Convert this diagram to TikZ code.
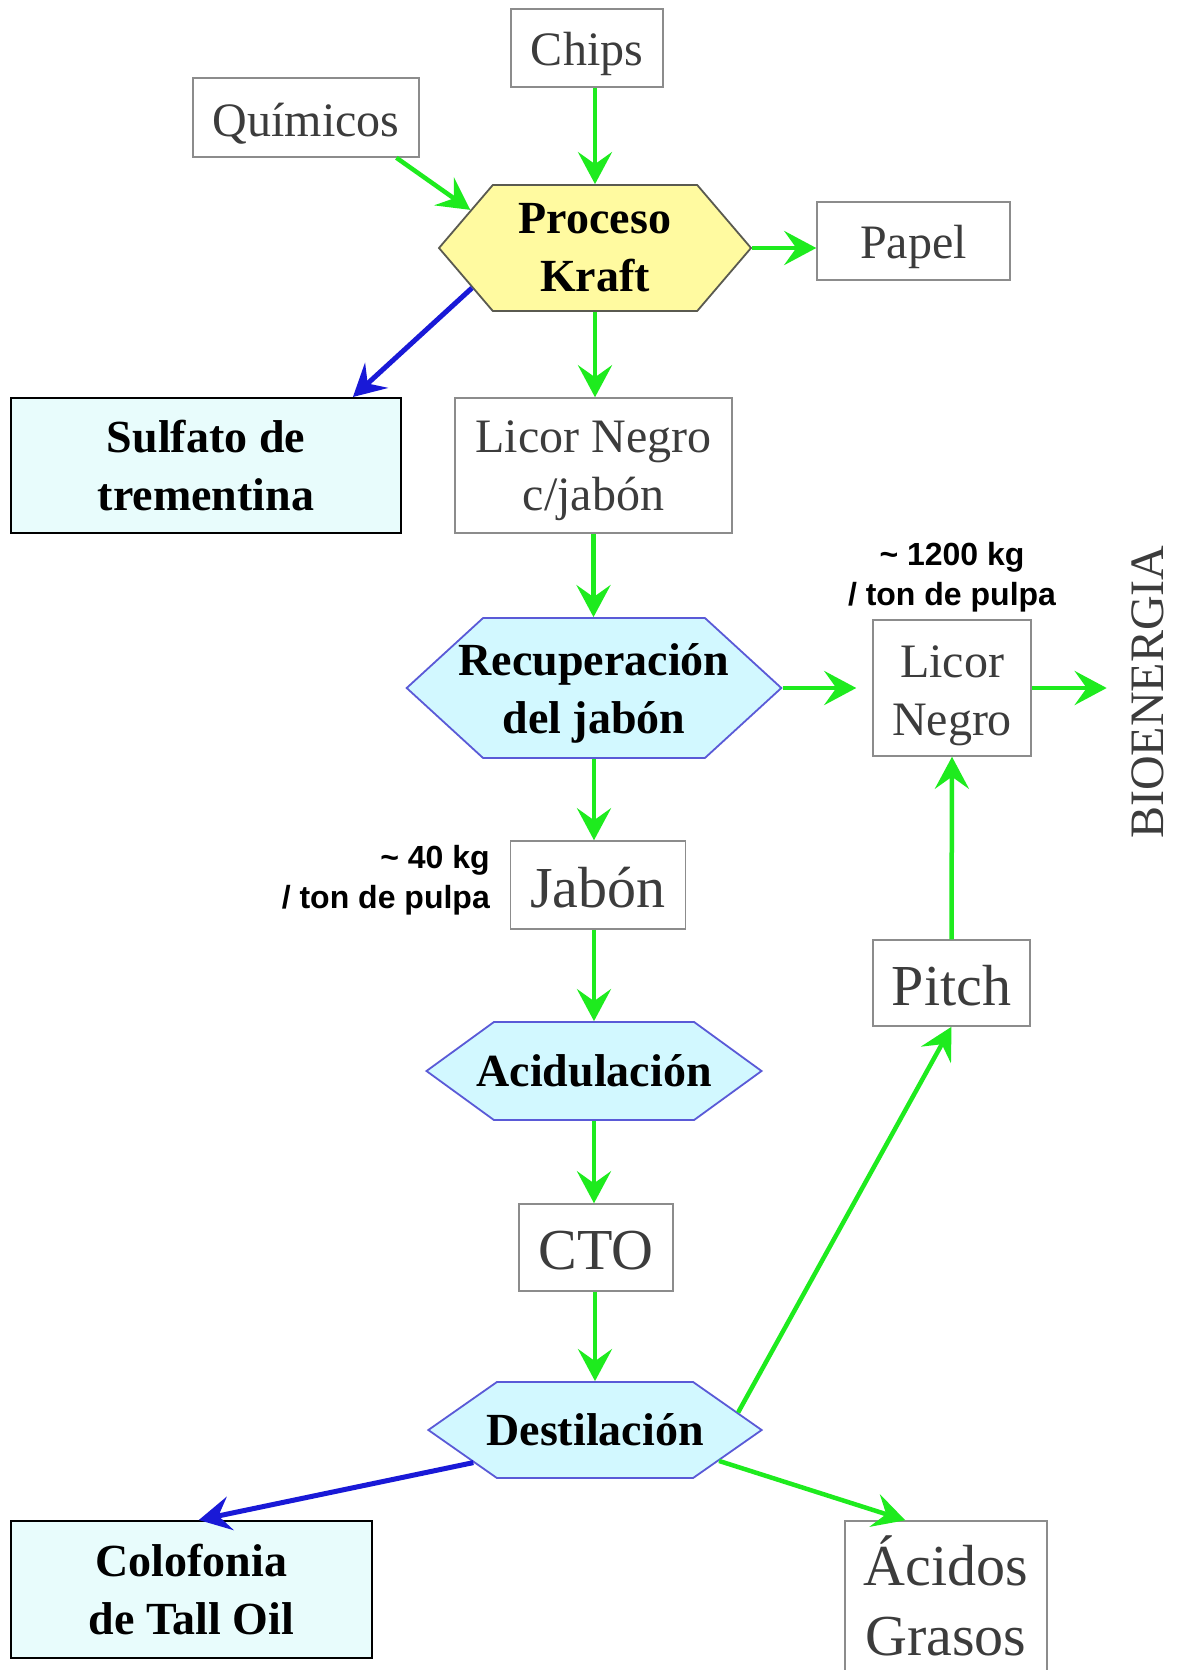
\documentclass[tikz,border=0pt]{standalone}
\usepackage{fontspec}
\setmainfont{Liberation Serif}
\newfontfamily\labelfont{Liberation Sans}
\usetikzlibrary{shapes.symbols, arrows.meta}

\definecolor{flowgreen}{RGB}{30,235,30}
\definecolor{flowblue}{RGB}{25,25,215}
\definecolor{boxgray}{RGB}{140,140,140}
\definecolor{inkgray}{RGB}{60,60,60}
\definecolor{palecyan}{RGB}{232,252,252}
\definecolor{hexcyan}{RGB}{210,248,255}
\definecolor{hexblue}{RGB}{90,90,215}
\definecolor{hexyellow}{RGB}{255,250,160}
\definecolor{hexedge}{RGB}{90,90,80}

\tikzset{
  % a taller first line drops the text a little inside the box
  feed/.style={draw=boxgray, line width=1.5pt, fill=white, text=inkgray,
    font=\fontsize{48}{58}\selectfont, align=center, inner sep=0pt,
    execute at begin node={\rule{0pt}{45pt}}},
  bigfeed/.style={feed, font=\fontsize{58}{70}\selectfont},
  product/.style={draw=black, line width=2pt, fill=palecyan,
    font=\bfseries\fontsize{46}{58}\selectfont, align=center, inner sep=0pt},
  stage/.style={signal, signal to=east and west, draw=hexblue, line width=1.8pt,
    fill=hexcyan, font=\bfseries\fontsize{46}{58}\selectfont, align=center, inner sep=0pt},
  gflow/.style={draw=flowgreen, line width=4.5pt,
    -{Stealth[length=32pt, width=34pt, inset=12pt]}},
  bflow/.style={gflow, draw=flowblue, line width=5pt},
  rate/.style={font=\labelfont\bfseries\fontsize{32}{40}\selectfont, inner sep=0pt}
}

\begin{document}
\begin{tikzpicture}[x=1pt, y=-1pt]
  \clip (0,0) rectangle (1177,1670);
  \fill[white] (0,0) rectangle (1177,1670);

  % inputs and the kraft stage
  \node[feed, minimum width=152pt, minimum height=78pt] (chips) at (587,48) {Chips};
  \node[feed, minimum width=226pt, minimum height=79pt] (quim) at (306,117.5) {Químicos};
  \node[stage, fill=hexyellow, draw=hexedge, minimum width=312pt, minimum height=126pt,
        signal pointer angle=99] (kraft) at (595,248) {Proceso\\Kraft};
  \node[feed, minimum width=193pt, minimum height=78pt] (papel) at (913.5,241) {Papel};

  % first products
  \node[product, minimum width=390pt, minimum height=135pt] (sulf) at (206,465.5) {Sulfato de\\trementina};
  \node[feed, minimum width=277pt, minimum height=135pt] (lcj) at (593.5,465.5) {\rule{0pt}{43pt}Licor Negro\\c/jabón};

  % soap recovery and black liquor
  \node[stage, minimum width=372pt, minimum height=140pt, inner xsep=-24.5pt,
        signal pointer angle=85] (recup) at (594,688) {\rule{0pt}{43pt}Recuperación\\del jabón};
  \node[feed, minimum width=158pt, minimum height=136pt] (licor) at (952,688) {\rule{0pt}{47pt}Licor\\Negro};
  \node[rate, align=center] (rate1200) at (952,577) {\textasciitilde{} 1200 kg\\/ ton de pulpa};
  \node[rotate=90, text=inkgray, inner sep=0pt, font=\fontsize{48}{58}\selectfont] (bio) at (1148,692) {BIOENERGIA};

  % soap line
  \node[bigfeed, minimum width=175pt, minimum height=88pt] (jabon) at (598,885) {Jabón};
  \node[rate, align=right, anchor=east] (rate40) at (490,880) {\textasciitilde{} 40 kg\\/ ton de pulpa};
  \node[stage, minimum width=332pt, minimum height=98pt, inner xsep=-17.5pt,
        signal pointer angle=72] (acid) at (594,1071) {Acidulación};
  \node[bigfeed, minimum width=154pt, minimum height=87pt] (cto) at (596,1247.5) {CTO};
  \node[stage, minimum width=330pt, minimum height=96pt, inner xsep=-10.5pt,
        signal pointer angle=70] (dest) at (595,1430) {Destilación};
  \node[bigfeed, minimum width=157pt, minimum height=86pt] (pitch) at (951.5,983) {Pitch};

  % distillation products
  \node[product, minimum width=361pt, minimum height=137pt] (colo) at (191.5,1589.5) {Colofonia\\de Tall Oil};
  \node[feed, minimum width=202pt, minimum height=200pt] (acidos) at (946,1621) {};
  \node[text=inkgray, align=center, inner sep=0pt, font=\fontsize{58}{70}\selectfont]
        (acidostext) at (946,1596) {Ácidos\\Grasos};

  % connectors
  \draw[gflow] (kraft.north |- chips.south) -- (kraft.north);
  \draw[gflow] (quim.-24) -- (kraft.163);
  \draw[gflow] (kraft.east) -- (kraft.east -| papel.west);
  \draw[bflow] (kraft.198) -- (sulf.25);
  \draw[gflow] (kraft.south) -- (kraft.south |- lcj.north);
  \draw[gflow] (lcj.south) -- (lcj.south |- recup.north);
  \draw[gflow, shorten >=16pt] (recup.east) -- (recup.east -| licor.west);
  \draw[gflow, shorten >=25pt] (licor.east) -- (licor.east -| bio.north);
  \draw[gflow] (recup.south) -- (recup.south |- jabon.north);
  \draw[gflow] (acid.north |- jabon.south) -- (acid.north);
  \draw[gflow] (acid.south) -- (acid.south |- cto.north);
  \draw[gflow] (dest.north |- cto.south) -- (dest.north);
  \draw[gflow] (pitch.north) -- (licor.south);
  \draw[gflow] (dest.7) -- (pitch.south);
  \draw[bflow] (dest.195) -- (colo.84);
  \draw[gflow] (dest.-14) -- (acidos.112);
\end{tikzpicture}
\end{document}
